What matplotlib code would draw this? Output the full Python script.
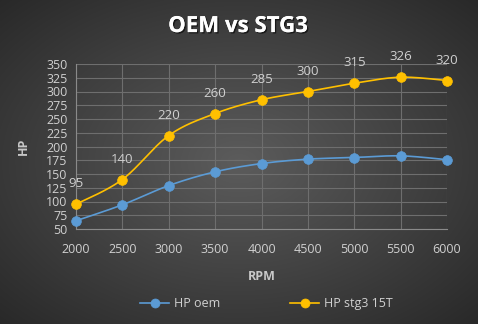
import numpy as np
import matplotlib
matplotlib.use("Agg")
import matplotlib.pyplot as plt
import matplotlib.patheffects as pe
from matplotlib.lines import Line2D

rpm = [2000, 2500, 3000, 3500, 4000, 4500, 5000, 5500, 6000]
hp_oem = [65, 94, 129, 154, 169, 177, 180, 183, 176]
hp_stg3 = [95, 140, 220, 260, 285, 300, 315, 326, 320]
y_ticks = list(range(50, 351, 25))
title = "OEM vs STG3"
labels = ["HP oem", "HP stg3 15T"]

plt.rcParams['font.family'] = ['Open Sans', 'DejaVu Sans']

def smooth(x, y, n=20):
    x = np.asarray(x, float); y = np.asarray(y, float)
    xs, ys = [], []
    for i in range(len(x) - 1):
        p0 = (x[max(i-1, 0)], y[max(i-1, 0)])
        p1 = (x[i], y[i]); p2 = (x[i+1], y[i+1])
        p3 = (x[min(i+2, len(x)-1)], y[min(i+2, len(x)-1)])
        c1 = (p1[0] + (p2[0]-p0[0])/6, p1[1] + (p2[1]-p0[1])/6)
        c2 = (p2[0] - (p3[0]-p1[0])/6, p2[1] - (p3[1]-p1[1])/6)
        t = np.linspace(0, 1, n)
        bx = (1-t)**3*p1[0] + 3*(1-t)**2*t*c1[0] + 3*(1-t)*t**2*c2[0] + t**3*p2[0]
        by = (1-t)**3*p1[1] + 3*(1-t)**2*t*c1[1] + 3*(1-t)*t**2*c2[1] + t**3*p2[1]
        xs.extend(bx); ys.extend(by)
    return np.array(xs), np.array(ys)

fig = plt.figure(figsize=(4.78, 3.24), dpi=100)

# radial gradient background
bg = fig.add_axes([0, 0, 1, 1], zorder=-10)
gx, gy = np.meshgrid(np.linspace(-1, 1, 478), np.linspace(-1, 1, 324))
r = np.sqrt(gx**2 + gy**2) / np.sqrt(2)
val = 0.36 - 0.2 * r
img = np.dstack([val, val, val])
bg.imshow(img, aspect='auto', extent=[0, 1, 0, 1])
bg.axis('off')

ax = fig.add_axes([76/478, 1-229/324, (447-76)/478, (229-64)/324])
ax.set_facecolor('none')

blue = '#5b9bd5'
gold = '#ffc000'

sx, sy = smooth(rpm, hp_oem)
ax.plot(sx, sy, color=blue, lw=1.2, zorder=3, clip_on=False)
ax.plot(rpm, hp_oem, 'o', color=blue, ms=7, mew=0.5, zorder=4, clip_on=False)
sx, sy = smooth(rpm, hp_stg3)
ax.plot(sx, sy, color=gold, lw=1.2, zorder=3, clip_on=False)
ax.plot(rpm, hp_stg3, 'o', color=gold, ms=7, mew=0.5, zorder=4, clip_on=False)

for xv, yv in zip(rpm, hp_stg3):
    ax.annotate(str(yv), (xv, yv), xytext=(0, 10), textcoords='offset points',
                ha='center', va='bottom', color='#d0d0d0', fontsize=9.5)

ax.set_xlim(2000, 6000)
ax.set_ylim(50, 350)
ax.set_xticks(rpm)
ax.set_yticks(y_ticks)
ax.grid(True, color='#6e6e6e', lw=0.8)
ax.set_axisbelow(True)
for s in ['top', 'right']:
    ax.spines[s].set_visible(False)
for s in ['left', 'bottom']:
    ax.spines[s].set_color('#8a8a8a')
ax.tick_params(colors='#d0d0d0', labelsize=9, length=0)
ax.tick_params(axis='x', pad=10)
ax.tick_params(axis='y', pad=6)
ax.set_xlabel('RPM', color='#c8c8c8', fontsize=9, fontweight='bold', labelpad=10)
ax.set_ylabel('HP', color='#c8c8c8', fontsize=9, fontweight='bold', labelpad=12)

fig.text(0.498, 0.918, title, ha='center', va='center', color='white',
         fontsize=16, fontweight='bold',
         path_effects=[pe.withSimplePatchShadow(offset=(1, -1), shadow_rgbFace='black', alpha=0.6), pe.Normal()])

handles = [Line2D([0], [0], color=blue, marker='o', ms=6.5, mew=0.5, lw=1.2),
           Line2D([0], [0], color=gold, marker='o', ms=6.5, mew=0.5, lw=1.2)]
leg = fig.legend(handles, labels, loc='center', bbox_to_anchor=(0.558, 0.062), ncol=2,
                 frameon=False, fontsize=9, labelcolor='#d0d0d0', columnspacing=5.6,
                 handlelength=2.3, handletextpad=0.4)

fig.savefig('out.png', dpi=100)
